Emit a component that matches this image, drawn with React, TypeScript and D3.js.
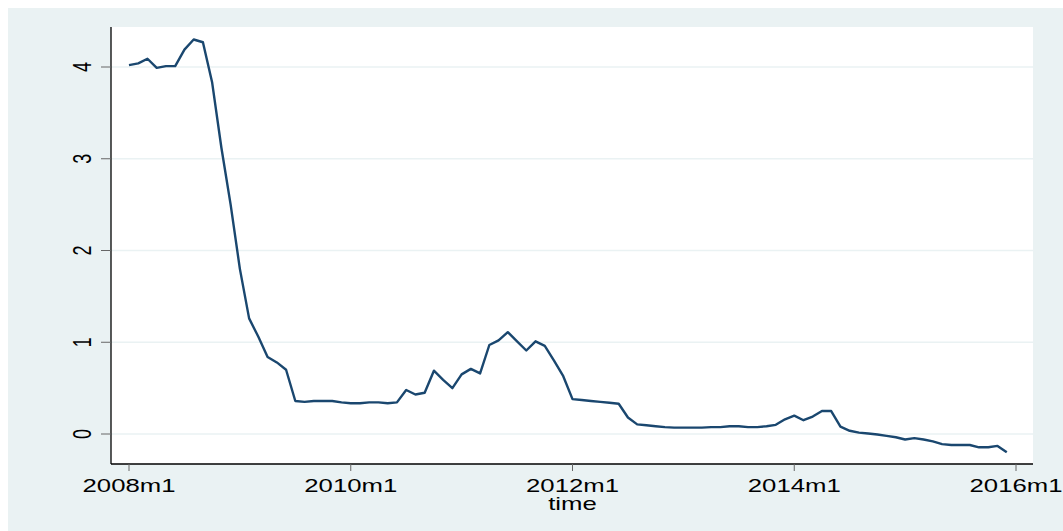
import { useEffect, useRef } from 'react';
import * as d3 from 'd3';

// monthly series, 2008m1 .. 2015m12
const startYear = 2008;
const values: number[] = [
  4.02, 4.04, 4.09, 3.99, 4.01, 4.01, 4.19, 4.30, 4.27, 3.83, 3.12, 2.50,
  1.80, 1.26, 1.06, 0.84, 0.78, 0.70, 0.36, 0.35, 0.36, 0.36, 0.36, 0.345,
  0.335, 0.335, 0.345, 0.345, 0.335, 0.345, 0.48, 0.43, 0.45, 0.69, 0.59, 0.50,
  0.65, 0.71, 0.66, 0.97, 1.02, 1.11, 1.01, 0.91, 1.01, 0.96, 0.80, 0.63,
  0.38, 0.37, 0.36, 0.35, 0.34, 0.33, 0.18, 0.105, 0.095, 0.085, 0.075, 0.07,
  0.07, 0.07, 0.07, 0.075, 0.075, 0.085, 0.085, 0.075, 0.075, 0.085, 0.10, 0.16,
  0.20, 0.15, 0.19, 0.25, 0.25, 0.08, 0.035, 0.015, 0.005, -0.005, -0.02, -0.035,
  -0.06, -0.045, -0.06, -0.08, -0.11, -0.12, -0.12, -0.12, -0.145, -0.145, -0.13, -0.20,
];
const xTickMonths = [0, 24, 48, 72, 96];
const xTickLabels = ['2008m1', '2010m1', '2012m1', '2014m1', '2016m1'];
const yTicks = [0, 1, 2, 3, 4];
const xTitle = 'time';

const W = 1063;
const H = 531;
const BG = '#eaf2f3';
const LINE = '#1a476f';
const FONT = '"Liberation Sans", Arial, sans-serif';
const STRETCH = 1.43; // reference is stretched horizontally

const App = () => {
  const ref = useRef<SVGSVGElement>(null);

  useEffect(() => {
    if (!ref.current) return;
    const svg = d3.select(ref.current);
    svg.selectAll('*').remove();

    const plot = { left: 111, right: 1033, top: 27, bottom: 464 };

    const x = d3.scaleLinear().domain([0, 96]).range([129, 1016]);
    const y = d3.scaleLinear().domain([0, 4]).range([434, 67]);

    // outer background
    svg.append('rect')
      .attr('x', 8).attr('y', 8)
      .attr('width', W - 8).attr('height', H - 8)
      .attr('fill', BG);

    // plot region
    svg.append('rect')
      .attr('x', plot.left).attr('y', plot.top)
      .attr('width', plot.right - plot.left)
      .attr('height', plot.bottom - plot.top)
      .attr('fill', '#fff');

    // gridlines
    svg.append('g')
      .selectAll('line')
      .data(yTicks)
      .enter()
      .append('line')
      .attr('x1', plot.left).attr('x2', plot.right)
      .attr('y1', (d) => y(d)).attr('y2', (d) => y(d))
      .attr('stroke', BG)
      .attr('stroke-width', 1.6);

    // series line
    const line = d3.line<number>()
      .x((_, i) => x(i))
      .y((d) => y(d));
    svg.append('path')
      .datum(values)
      .attr('d', line)
      .attr('fill', 'none')
      .attr('stroke', LINE)
      .attr('stroke-width', 2.4)
      .attr('stroke-linejoin', 'round');

    // y axis
    svg.append('line')
      .attr('x1', plot.left).attr('x2', plot.left)
      .attr('y1', plot.top).attr('y2', plot.bottom)
      .attr('stroke', '#000').attr('stroke-width', 1.3);
    const yg = svg.append('g');
    yg.selectAll('line')
      .data(yTicks)
      .enter()
      .append('line')
      .attr('x1', plot.left - 10).attr('x2', plot.left)
      .attr('y1', (d) => y(d)).attr('y2', (d) => y(d))
      .attr('stroke', '#666').attr('stroke-width', 1);
    yg.selectAll('text')
      .data(yTicks)
      .enter()
      .append('text')
      .attr('transform', (d) => `translate(91,${y(d)}) scale(${STRETCH},1) rotate(-90)`)
      .attr('text-anchor', 'middle')
      .attr('font-family', FONT)
      .attr('font-size', 18)
      .attr('fill', '#000')
      .text((d) => d);

    // x axis
    svg.append('line')
      .attr('x1', plot.left).attr('x2', plot.right)
      .attr('y1', plot.bottom).attr('y2', plot.bottom)
      .attr('stroke', '#000').attr('stroke-width', 1.3);
    const xg = svg.append('g');
    xg.selectAll('line')
      .data(xTickMonths)
      .enter()
      .append('line')
      .attr('x1', (d) => x(d)).attr('x2', (d) => x(d))
      .attr('y1', plot.bottom).attr('y2', plot.bottom + 7)
      .attr('stroke', '#666').attr('stroke-width', 1);
    xg.selectAll('text')
      .data(xTickMonths)
      .enter()
      .append('text')
      .attr('transform', (d) => `translate(${x(d)},492) scale(${STRETCH},1)`)
      .attr('text-anchor', 'middle')
      .attr('font-family', FONT)
      .attr('font-size', 18)
      .attr('fill', '#000')
      .text((_, i) => xTickLabels[i]);

    // axis title
    svg.append('text')
      .attr('transform', `translate(${x(48)},510) scale(${STRETCH},1)`)
      .attr('text-anchor', 'middle')
      .attr('font-family', FONT)
      .attr('font-size', 18)
      .attr('fill', '#000')
      .text(xTitle);

    void startYear;
  }, []);

  return (
    <>
      <style>{'body{margin:0;overflow:hidden;background:#fff}'}</style>
      <svg ref={ref} width={W} height={H} style={{ display: 'block' }}></svg>
    </>
  );
};

export default App;
